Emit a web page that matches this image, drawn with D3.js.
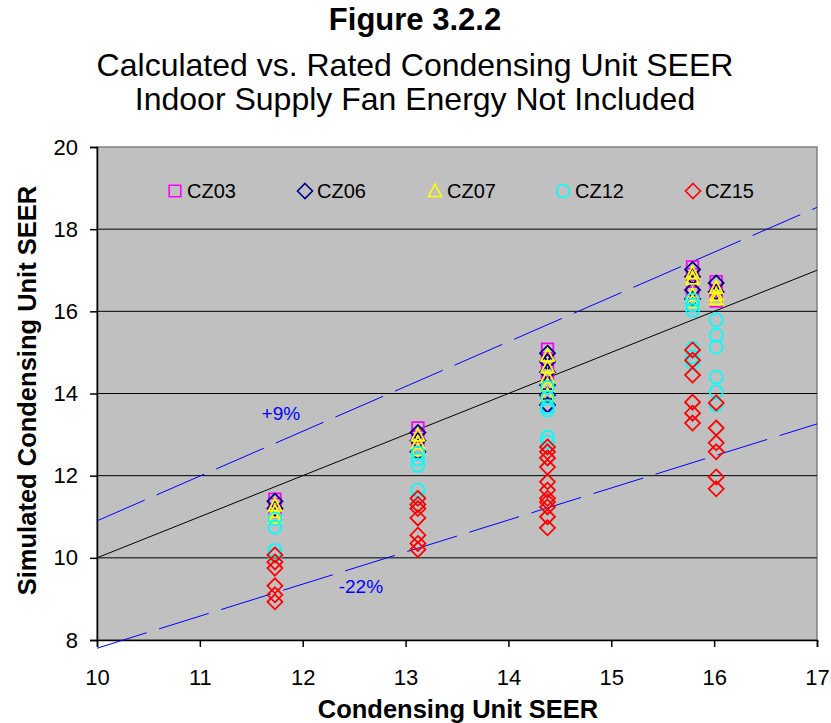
<!DOCTYPE html>
<html>
<head>
<meta charset="utf-8">
<script src="https://cdn.jsdelivr.net/npm/d3@7"></script>
<style>
  html, body { margin: 0; padding: 0; background: #ffffff; }
  svg { display: block; font-family: Arial, "Liberation Sans", sans-serif; }
</style>
</head>
<body>
<svg id="chart" width="831" height="723"></svg>
<script>
// Rated condensing unit SEER for each tested unit
const ratedSeer = [11.73, 13.12, 14.38, 15.79, 16.02];

// Simulated SEER by climate zone, one list per rated SEER value
const cz03 = [
  [11.43, 11.3, 11.12],
  [13.16, 12.95, 12.7],
  [15.08, 14.85, 14.55, 14.25, 13.95, 13.7],
  [17.08, 16.9, 16.45, 16.3],
  [16.72, 16.5, 16.25]
];
const cz06 = [
  [11.38, 11.2],
  [13.05, 12.85, 12.58],
  [14.98, 14.77, 14.52, 14.2, 13.96, 13.72],
  [17.02, 16.84, 16.52, 16.3],
  [16.69, 16.47]
];
const cz07 = [
  [11.28, 11.12, 10.98],
  [12.98, 12.8, 12.62],
  [14.92, 14.64, 14.4, 14.2, 13.96],
  [16.93, 16.8, 16.4, 16.23],
  [16.57, 16.4, 16.3]
];
const cz12 = [
  [10.95, 10.75, 10.18, 10.06],
  [12.55, 12.4, 12.25, 11.65, 11.45],
  [14.15, 13.9, 13.68, 13.6, 12.94, 12.82],
  [16.28, 16.15, 16.03, 15.1, 14.89, 14.74],
  [15.79, 15.42, 15.13, 14.4, 14.04, 13.72]
];
const cz15 = [
  [10.07, 9.9, 9.75, 9.32, 9.1, 8.93],
  [11.45, 11.3, 11.2, 10.97, 10.55, 10.35, 10.2],
  [12.7, 12.58, 12.43, 12.21, 11.85, 11.65, 11.45, 11.36, 11.24, 11.0, 10.73],
  [15.06, 14.81, 14.45, 13.79, 13.52, 13.28],
  [13.77, 13.16, 12.8, 12.58, 11.97, 11.68]
];

const seriesNames = ["CZ03", "CZ06", "CZ07", "CZ12", "CZ15"];
const seriesValues = [cz03, cz06, cz07, cz12, cz15];

// Reference lines: equal, +9% and -22%
const lineFactors = [1, 1.09, 0.78];
const lineLabels = ["", "+9%", "-22%"];

const xTicks = [10, 11, 12, 13, 14, 15, 16, 17];
const yTicks = [8, 10, 12, 14, 16, 18, 20];

const svg = d3.select("#chart");
const plotLeft = 97, plotRight = 817, plotTop = 147, plotBottom = 640;

const x = d3.scaleLinear().domain([10, 17]).range([plotLeft, plotRight]);
const y = d3.scaleLinear().domain([8, 20]).range([plotBottom, plotTop]);

// Titles
const titles = [
  { text: "Figure 3.2.2", y: 30, size: 31, weight: "bold" },
  { text: "Calculated vs. Rated Condensing Unit SEER", y: 76, size: 32, weight: "normal" },
  { text: "Indoor Supply Fan Energy Not Included", y: 110, size: 32, weight: "normal" }
];
svg.selectAll("text.title").data(titles).join("text")
  .attr("class", "title")
  .attr("x", 415).attr("y", d => d.y)
  .attr("text-anchor", "middle")
  .attr("font-size", d => d.size)
  .attr("font-weight", d => d.weight)
  .attr("fill", "#000")
  .text(d => d.text);

// Plot background
svg.append("rect")
  .attr("x", plotLeft).attr("y", plotTop)
  .attr("width", plotRight - plotLeft).attr("height", plotBottom - plotTop)
  .attr("fill", "#c0c0c0")
  .attr("stroke", "#808080").attr("stroke-width", 1.5);

// Horizontal gridlines
svg.append("g").selectAll("line")
  .data(yTicks.filter(v => v > 8 && v < 20)).join("line")
  .attr("x1", plotLeft).attr("x2", plotRight)
  .attr("y1", d => y(d)).attr("y2", d => y(d))
  .attr("stroke", "#000").attr("stroke-width", 1);

// Axes
const xAxis = svg.append("g")
  .attr("transform", `translate(0,${plotBottom})`)
  .call(d3.axisBottom(x).tickValues(xTicks).tickSize(7).tickPadding(22).tickFormat(d3.format("d")));
const yAxis = svg.append("g")
  .attr("transform", `translate(${plotLeft},0)`)
  .call(d3.axisLeft(y).tickValues(yTicks).tickSize(7).tickPadding(12).tickFormat(d3.format("d")));
[xAxis, yAxis].forEach(g => {
  g.select(".domain").attr("stroke", "#000").attr("stroke-width", 1.5);
  g.selectAll(".tick line").attr("stroke", "#000").attr("stroke-width", 1.5);
  g.selectAll(".tick text").attr("font-size", 22).attr("fill", "#000")
    .attr("font-family", "Arial, 'Liberation Sans', sans-serif");
});

// Axis titles
svg.append("text")
  .attr("x", 458).attr("y", 718)
  .attr("text-anchor", "middle")
  .attr("font-size", 25.5).attr("font-weight", "bold")
  .text("Condensing Unit SEER");
svg.append("text")
  .attr("transform", `translate(36,${(plotTop + plotBottom) / 2 - 3}) rotate(-90)`)
  .attr("text-anchor", "middle")
  .attr("font-size", 25.5).attr("font-weight", "bold")
  .text("Simulated Condensing Unit SEER");

// Reference lines
svg.append("clipPath").attr("id", "plotClip")
  .append("rect").attr("x", plotLeft).attr("y", plotTop - 2)
  .attr("width", plotRight - plotLeft).attr("height", plotBottom - plotTop + 14);

const refLine = d3.line().x(d => x(d[0])).y(d => y(d[1]));
lineFactors.forEach((f, i) => {
  svg.append("path")
    .attr("clip-path", "url(#plotClip)")
    .attr("d", refLine([[10, 10 * f], [17, 17 * f]]))
    .attr("fill", "none")
    .attr("stroke", i === 0 ? "#000" : "#0000ff")
    .attr("stroke-width", 1)
    .attr("stroke-dasharray", i === 0 ? null : "52,13");
});

// Line labels
const labelPos = [null, [11.6, 13.36], [12.35, 9.14]];
lineLabels.forEach((t, i) => {
  if (!t) return;
  svg.append("text")
    .attr("x", x(labelPos[i][0])).attr("y", y(labelPos[i][1]))
    .attr("font-size", 19).attr("fill", "#0000ff")
    .text(t);
});

// Marker shapes
const colors = ["#ff00ff", "#000080", "#ffff00", "#00ffff", "#ff0000"];
function shape(k) {
  if (k === 0) return "M-5.8,-5.8H5.8V5.8H-5.8Z";
  if (k === 1 || k === 4) return "M0,-7.5L7.5,0L0,7.5L-7.5,0Z";
  if (k === 2) return "M0,-7L6.5,5.5H-6.5Z";
  return "M6.5,0A6.5,6.5 0 1,1 -6.5,0A6.5,6.5 0 1,1 6.5,0Z";
}

// Data points
seriesValues.forEach((vals, k) => {
  const pts = [];
  vals.forEach((list, i) => list.forEach(v => pts.push([ratedSeer[i], v])));
  svg.append("g").selectAll("path").data(pts).join("path")
    .attr("transform", d => `translate(${x(d[0])},${y(d[1])})`)
    .attr("d", shape(k))
    .attr("fill", "none")
    .attr("stroke", colors[k])
    .attr("stroke-width", 1.8);
});

// Legend
const legendX = [175, 305, 435, 563, 693];
const lg = svg.append("g").selectAll("g").data(seriesNames).join("g")
  .attr("transform", (d, i) => `translate(${legendX[i]},191)`);
lg.append("path")
  .attr("d", (d, i) => shape(i))
  .attr("fill", "none")
  .attr("stroke", (d, i) => colors[i])
  .attr("stroke-width", 1.6);
lg.append("text")
  .attr("x", 12).attr("y", 7)
  .attr("font-size", 20).attr("fill", "#000")
  .text(d => d);
</script>
</body>
</html>
